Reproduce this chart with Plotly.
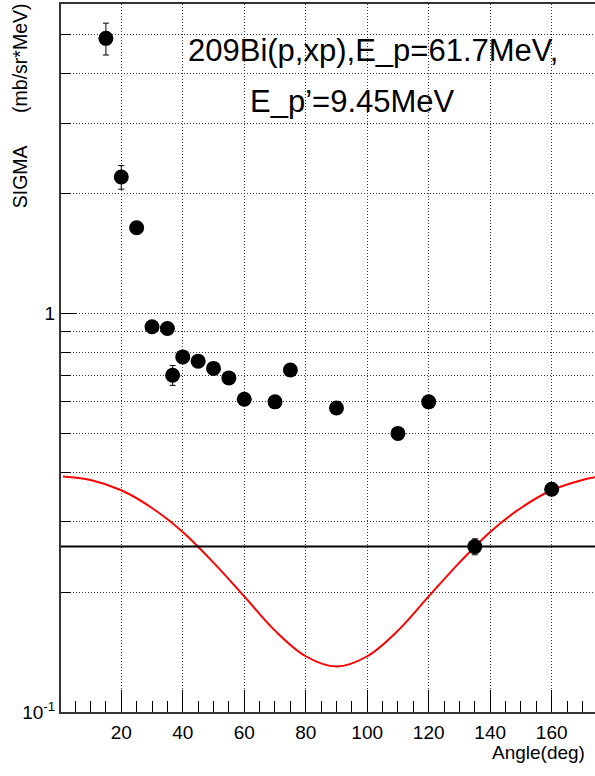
import plotly.graph_objects as go

# ---- data ----
angle = [15, 20, 25, 30, 35, 36.7, 40, 45, 50, 55, 60, 70, 75, 90, 110, 120, 135, 160]
sigma = [4.90, 2.20, 1.64, 0.926, 0.917, 0.700, 0.778, 0.759, 0.728, 0.689, 0.609, 0.600,
         0.721, 0.579, 0.500, 0.600, 0.260, 0.362]
sigma_err = [0.45, 0.15, 0.04, 0.02, 0.02, 0.04, 0.02, 0.02, 0.02, 0.02, 0.015, 0.015,
             0.02, 0.015, 0.012, 0.015, 0.012, 0.01]

# red fitted curve
fit_angle = [1, 10, 20, 30, 40, 50, 60, 70, 80, 90, 100, 110, 120, 130, 140, 150, 160, 170, 174.1]
fit_sigma = [0.390, 0.382, 0.360, 0.325, 0.283, 0.237, 0.195, 0.160, 0.138, 0.130, 0.138,
             0.160, 0.195, 0.237, 0.283, 0.325, 0.360, 0.382, 0.388]

ref_level = 0.26

x_range = [0.39, 174.1]
y_range_log = [-1, 0.7764]
y_major = [0.1, 1]
y_major_text = ["10<sup>-1</sup>", "1"]
y_minor = [0.2, 0.3, 0.4, 0.5, 0.6, 0.7, 0.8, 0.9, 2, 3, 4, 5]

title_1 = "209Bi(p,xp),E_p=61.7MeV,"
title_2 = "E_p\u2019=9.45MeV"
y_title = "SIGMA\u00a0\u00a0\u00a0\u00a0\u00a0\u00a0(mb/sr*MeV)"
x_title = "Angle(deg)"

FONT = "Liberation Sans, Arial, Helvetica, sans-serif"

fig = go.Figure()

fig.add_trace(go.Scatter(
    x=x_range, y=[ref_level, ref_level], mode="lines",
    line=dict(color="black", width=2), yaxis="y2", hoverinfo="skip", showlegend=False))

fig.add_trace(go.Scatter(
    x=fit_angle, y=fit_sigma, mode="lines", line_shape="spline",
    line=dict(color="#ff0000", width=2), showlegend=False))

fig.add_trace(go.Scatter(
    x=angle, y=sigma, mode="markers",
    marker=dict(color="black", size=15, symbol="circle"),
    error_y=dict(type="data", array=sigma_err, color="black", thickness=1, width=3),
    showlegend=False))

axis_line = "#333333"
grid_col = "#333333"
grid_dash = "1px,2px"

fig.update_layout(
    width=595, height=776,
    margin=dict(l=61, r=0, t=4, b=64),
    paper_bgcolor="white", plot_bgcolor="white",
    font=dict(family=FONT, color="black"),
    xaxis=dict(
        range=x_range, tick0=0, dtick=20,
        ticks="inside", ticklen=22, tickwidth=1, tickcolor="black",
        minor=dict(dtick=5, tick0=0, ticks="inside", ticklen=11, tickwidth=1,
                   tickcolor="black", showgrid=False),
        showgrid=True, gridcolor=grid_col, griddash=grid_dash, gridwidth=1,
        showline=True, linecolor=axis_line, linewidth=2, mirror=True,
        tickfont=dict(size=19, family=FONT, color="black"),
        ticklabelstandoff=2,
        zeroline=False,
    ),
    yaxis=dict(
        type="log", range=y_range_log,
        tickvals=y_major, ticktext=y_major_text,
        ticks="inside", ticklen=16, tickwidth=1, tickcolor="black",
        showgrid=True, gridcolor=grid_col, griddash=grid_dash, gridwidth=1,
        showline=True, linecolor=axis_line, linewidth=2,
        tickfont=dict(size=19, family=FONT, color="black"),
        zeroline=False,
    ),
    yaxis2=dict(
        type="log", range=y_range_log, overlaying="y", side="left", anchor="x",
        tickvals=y_minor, showticklabels=False,
        ticks="inside", ticklen=10, tickwidth=1, tickcolor="black",
        showgrid=True, gridcolor=grid_col, griddash=grid_dash, gridwidth=1,
        showline=False, zeroline=False,
    ),
    annotations=[
        dict(text=title_1, xref="paper", yref="paper", x=0.234, y=0.934,
             xanchor="left", yanchor="middle", showarrow=False,
             font=dict(size=31, family=FONT, color="black")),
        dict(text=title_2, xref="paper", yref="paper", x=0.351, y=0.862,
             xanchor="left", yanchor="middle", showarrow=False,
             font=dict(size=31, family=FONT, color="black")),
        dict(text=y_title, xref="paper", yref="paper", x=-0.077, y=1.003,
             xanchor="center", yanchor="top", textangle=-90, showarrow=False,
             borderpad=0, font=dict(size=19.5, family=FONT, color="black")),
        dict(text=x_title, xref="paper", yref="paper", x=1.0 - 8 / 534, y=-0.057,
             xanchor="right", yanchor="middle", showarrow=False,
             font=dict(size=19, family=FONT, color="black")),
    ],
)

fig.write_html("out.html", config={"displayModeBar": False},
               post_script="document.body.style.margin='0px';")
